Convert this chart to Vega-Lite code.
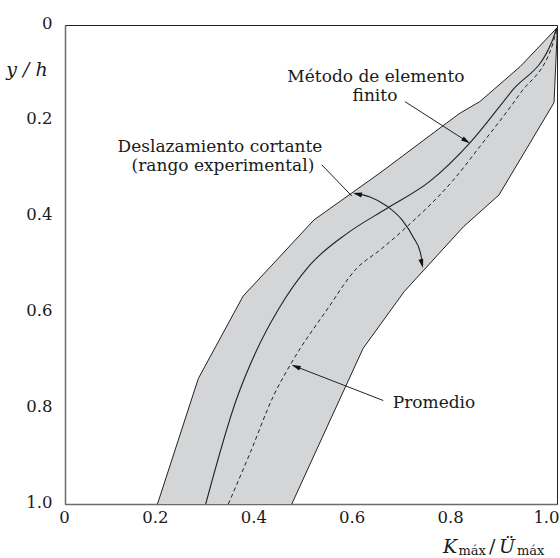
{
  "$schema": "https://vega.github.io/schema/vega-lite/v6.json",
  "width": 492,
  "height": 479,
  "autosize": "none",
  "padding": {"left": 65, "top": 25, "right": 3, "bottom": 54},
  "background": "white",
  "config": {
    "font": "DejaVu Serif",
    "view": {"stroke": "#222", "strokeWidth": 1},
    "axis": {
      "grid": false,
      "ticks": false,
      "domainColor": "#6b6b6b",
      "domainWidth": 1.5,
      "labelFont": "DejaVu Serif",
      "titleFont": "DejaVu Serif",
      "labelFontSize": 16.5,
      "labelColor": "#1a1a1a",
      "labelFlush": false,
      "labelOverlap": false
    },
    "text": {"font": "DejaVu Serif"}
  },
  "datasets": {
    "band": [
      {"ord": 1, "x": 0.188, "y": 1.0},
      {"ord": 2, "x": 0.271, "y": 0.738},
      {"ord": 3, "x": 0.362, "y": 0.566},
      {"ord": 4, "x": 0.506, "y": 0.407},
      {"ord": 5, "x": 0.640, "y": 0.309},
      {"ord": 6, "x": 0.766, "y": 0.212},
      {"ord": 7, "x": 0.803, "y": 0.184},
      {"ord": 8, "x": 0.843, "y": 0.160},
      {"ord": 9, "x": 0.925, "y": 0.087},
      {"ord": 10, "x": 0.999, "y": 0.007},
      {"ord": 11, "x": 1.0, "y": 0.023},
      {"ord": 12, "x": 0.994, "y": 0.162},
      {"ord": 13, "x": 0.882, "y": 0.355},
      {"ord": 14, "x": 0.810, "y": 0.421},
      {"ord": 15, "x": 0.689, "y": 0.557},
      {"ord": 16, "x": 0.606, "y": 0.675},
      {"ord": 17, "x": 0.542, "y": 0.818},
      {"ord": 18, "x": 0.461, "y": 1.0}
    ],
    "fem": [
      {"ord": 1, "x": 0.286, "y": 1.0},
      {"ord": 2, "x": 0.348, "y": 0.783},
      {"ord": 3, "x": 0.390, "y": 0.678},
      {"ord": 4, "x": 0.433, "y": 0.595},
      {"ord": 5, "x": 0.498, "y": 0.501},
      {"ord": 6, "x": 0.575, "y": 0.434},
      {"ord": 7, "x": 0.654, "y": 0.383},
      {"ord": 8, "x": 0.742, "y": 0.326},
      {"ord": 9, "x": 0.823, "y": 0.246},
      {"ord": 10, "x": 0.908, "y": 0.138},
      {"ord": 11, "x": 0.990, "y": 0.034},
      {"ord": 12, "x": 0.999, "y": 0.006}
    ],
    "avg": [
      {"ord": 1, "x": 0.332, "y": 1.0},
      {"ord": 2, "x": 0.376, "y": 0.894},
      {"ord": 3, "x": 0.423, "y": 0.776},
      {"ord": 4, "x": 0.461, "y": 0.704},
      {"ord": 5, "x": 0.532, "y": 0.595},
      {"ord": 6, "x": 0.593, "y": 0.508},
      {"ord": 7, "x": 0.640, "y": 0.470},
      {"ord": 8, "x": 0.695, "y": 0.421},
      {"ord": 9, "x": 0.789, "y": 0.324},
      {"ord": 10, "x": 0.843, "y": 0.254},
      {"ord": 11, "x": 0.925, "y": 0.143},
      {"ord": 12, "x": 0.992, "y": 0.038},
      {"ord": 13, "x": 0.999, "y": 0.006}
    ],
    "leaders": [
      {"id": "fem", "ord": 1, "x": 0.691, "y": 0.160},
      {"id": "fem", "ord": 2, "x": 0.820, "y": 0.245},
      {"id": "rango", "ord": 1, "x": 0.522, "y": 0.292},
      {"id": "rango", "ord": 2, "x": 0.583, "y": 0.357},
      {"id": "prom", "ord": 1, "x": 0.647, "y": 0.784},
      {"id": "prom", "ord": 2, "x": 0.464, "y": 0.711}
    ],
    "arc": [
      {"ord": 1, "x": 0.590, "y": 0.352},
      {"ord": 2, "x": 0.620, "y": 0.359},
      {"ord": 3, "x": 0.654, "y": 0.378},
      {"ord": 4, "x": 0.685, "y": 0.407},
      {"ord": 5, "x": 0.709, "y": 0.445},
      {"ord": 6, "x": 0.722, "y": 0.474},
      {"ord": 7, "x": 0.727, "y": 0.500}
    ],
    "heads": [
      {"x": 0.8154, "y": 0.2420, "dir": 122.6},
      {"x": 0.5943, "y": 0.3528, "dir": 283.2},
      {"x": 0.7254, "y": 0.4981, "dir": 166},
      {"x": 0.4693, "y": 0.7132, "dir": 291.3}
    ],
    "notes": [
      {"t": "Método de elemento", "x": 0.632, "y": 0.119},
      {"t": "finito", "x": 0.630, "y": 0.158},
      {"t": "Deslazamiento cortante", "x": 0.315, "y": 0.265},
      {"t": "(rango experimental)", "x": 0.321, "y": 0.304},
      {"t": "Promedio", "x": 0.750, "y": 0.800}
    ],
    "titleMain": [
      {"t": "K", "x": 0.7683, "y": 1.1023},
      {"t": "Ü", "x": 0.8821, "y": 1.1023}
    ],
    "titleSub": [
      {"t": "máx", "x": 0.7998, "y": 1.1065},
      {"t": "máx", "x": 0.9187, "y": 1.1065}
    ],
    "titleSlash": [
      {"t": "/", "x": 0.8618, "y": 1.1023}
    ]
  },
  "encoding": {
    "x": {
      "field": "x",
      "type": "quantitative",
      "scale": {"domain": [0, 1], "nice": false, "zero": false},
      "axis": {
        "values": [0, 0.2, 0.4, 0.6, 0.8, 1],
        "labelExpr": "datum.value == 0 ? '0' : format(datum.value, '.1f')",
        "title": null,
        "labelPadding": 5,
        "labelOffset": {"condition": [{"test": "datum.value == 0", "value": -1}, {"test": "datum.value == 1", "value": -11}], "value": -8.5}
      }
    },
    "y": {
      "field": "y",
      "type": "quantitative",
      "scale": {"domain": [0, 1], "reverse": true, "nice": false, "zero": false},
      "axis": {
        "values": [0, 0.2, 0.4, 0.6, 0.8, 1],
        "labelExpr": "datum.value == 0 ? '0' : format(datum.value, '.1f')",
        "labelPadding": 13,
        "labelOffset": -2,
        "title": "y / h",
        "titleAngle": 0,
        "titleX": -38.5,
        "titleY": 50,
        "titleAlign": "center",
        "titleBaseline": "alphabetic",
        "titleFontStyle": "italic",
        "titleFontWeight": "normal",
        "titleFontSize": 19,
        "titleColor": "#1a1a1a"
      }
    }
  },
  "layer": [
    {
      "data": {"name": "band"},
      "mark": {"type": "line", "fill": "#d4d5d7", "stroke": "#222", "strokeWidth": 1, "interpolate": "linear"},
      "encoding": {"order": {"field": "ord", "type": "quantitative"}}
    },
    {
      "data": {"name": "fem"},
      "mark": {"type": "line", "stroke": "#222", "strokeWidth": 1.1, "interpolate": "monotone"},
      "encoding": {"order": {"field": "ord", "type": "quantitative"}}
    },
    {
      "data": {"name": "avg"},
      "mark": {"type": "line", "stroke": "#222", "strokeWidth": 1, "strokeDash": [4, 3], "interpolate": "monotone"},
      "encoding": {"order": {"field": "ord", "type": "quantitative"}}
    },
    {
      "data": {"name": "leaders"},
      "mark": {"type": "line", "stroke": "#222", "strokeWidth": 1},
      "encoding": {"detail": {"field": "id"}, "order": {"field": "ord", "type": "quantitative"}}
    },
    {
      "data": {"name": "arc"},
      "mark": {"type": "line", "stroke": "#222", "strokeWidth": 1.1, "interpolate": "monotone"},
      "encoding": {"order": {"field": "ord", "type": "quantitative"}}
    },
    {
      "data": {"name": "heads"},
      "mark": {"type": "point", "shape": "M0,-1L0.55,1L-0.55,1Z", "filled": true, "color": "#111", "size": 80, "opacity": 1},
      "encoding": {"angle": {"field": "dir", "type": "quantitative", "scale": null}}
    },
    {
      "data": {"name": "notes"},
      "mark": {"type": "text", "fontSize": 17, "align": "center", "baseline": "alphabetic", "color": "#1a1a1a"},
      "encoding": {"text": {"field": "t"}}
    },
    {
      "data": {"name": "titleMain"},
      "mark": {"type": "text", "fontSize": 19, "fontStyle": "italic", "align": "left", "baseline": "alphabetic", "color": "#1a1a1a"},
      "encoding": {"text": {"field": "t"}}
    },
    {
      "data": {"name": "titleSub"},
      "mark": {"type": "text", "fontSize": 13, "align": "left", "baseline": "alphabetic", "color": "#1a1a1a"},
      "encoding": {"text": {"field": "t"}}
    },
    {
      "data": {"name": "titleSlash"},
      "mark": {"type": "text", "fontSize": 19, "align": "left", "baseline": "alphabetic", "color": "#1a1a1a"},
      "encoding": {"text": {"field": "t"}}
    }
  ]
}
